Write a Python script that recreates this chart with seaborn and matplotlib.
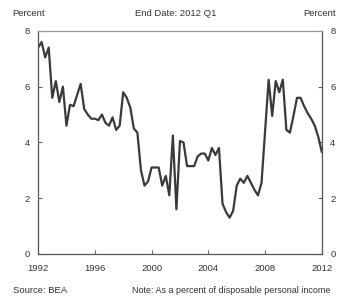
import numpy as np
import pandas as pd
import seaborn as sns
import matplotlib.pyplot as plt

# ---- Data: personal saving rate, quarterly 1992Q1 - 2012Q1 (percent of DPI)
start_year = 1992
saving_rate = [
    7.4, 7.6, 7.05, 7.4, 5.6, 6.2, 5.45, 6.0,      # 1992-1993
    4.6, 5.35, 5.3, 5.7, 6.1, 5.2, 5.0, 4.85,      # 1994-1995
    4.85, 4.8, 5.0, 4.7, 4.6, 4.9, 4.45, 4.6,      # 1996-1997
    5.8, 5.6, 5.25, 4.5, 4.35, 3.0, 2.45, 2.6,     # 1998-1999
    3.1, 3.1, 3.1, 2.45, 2.8, 2.1, 4.25, 1.6,      # 2000-2001
    4.05, 4.0, 3.15, 3.15, 3.15, 3.5, 3.6, 3.6,    # 2002-2003
    3.35, 3.8, 3.55, 3.8, 1.8, 1.5, 1.3, 1.55,     # 2004-2005
    2.45, 2.7, 2.55, 2.8, 2.55, 2.3, 2.1, 2.55,    # 2006-2007
    4.4, 6.25, 4.95, 6.2, 5.8, 6.25, 4.45, 4.35,   # 2008-2009
    4.95, 5.6, 5.6, 5.3, 5.05, 4.85, 4.6, 4.2,     # 2010-2011
    3.65,                                          # 2012Q1
]
year_ticks = [1992, 1996, 2000, 2004, 2008, 2012]
pct_ticks = [0, 2, 4, 6, 8]

df = pd.DataFrame({'rate': saving_rate})
df['date'] = start_year + np.arange(len(df)) / 4

# ---- Plot
sns.set_style('white')
plt.rcParams['font.family'] = ['Liberation Sans', 'DejaVu Sans']

fig = plt.figure(figsize=(3.37, 3.03), dpi=100)
ax = fig.add_axes([0.113, 0.162, 0.842, 0.736])

sns.lineplot(data=df, x='date', y='rate', ax=ax, color='#3a3a3a', linewidth=1.6)

ax.set_xlim(1992, 2012)
ax.set_ylim(0, 8)
ax.set_xticks(year_ticks)
ax.set_yticks(pct_ticks)
ax.set_xlabel('')
ax.set_ylabel('')

ax.tick_params(axis='both', direction='in', length=3, width=0.8, colors='#666666',
               labelsize=6.8, labelcolor='#333333')
ax.tick_params(axis='y', right=True, labelright=True, left=True, labelleft=True, pad=6)
ax.tick_params(axis='x', bottom=True, pad=7)

for side in ['left', 'right', 'top', 'bottom']:
    ax.spines[side].set_visible(True)
    ax.spines[side].set_color('#555555')
    ax.spines[side].set_linewidth(0.9)
ax.spines['top'].set_color('#999999')

# header and footer texts
fig.text(0.036, 0.955, 'Percent', fontsize=6.8, color='#333333', va='center', ha='left')
fig.text(0.522, 0.955, 'End Date: 2012 Q1', fontsize=6.8, color='#333333', va='center', ha='center')
fig.text(0.997, 0.955, 'Percent', fontsize=6.8, color='#333333', va='center', ha='right')
fig.text(0.038, 0.04, 'Source: BEA', fontsize=6.8, color='#333333', va='center', ha='left')
fig.text(0.393, 0.04, 'Note: As a percent of disposable personal income',
         fontsize=6.5, color='#333333', va='center', ha='left')

fig.savefig('out.png', dpi=100)
